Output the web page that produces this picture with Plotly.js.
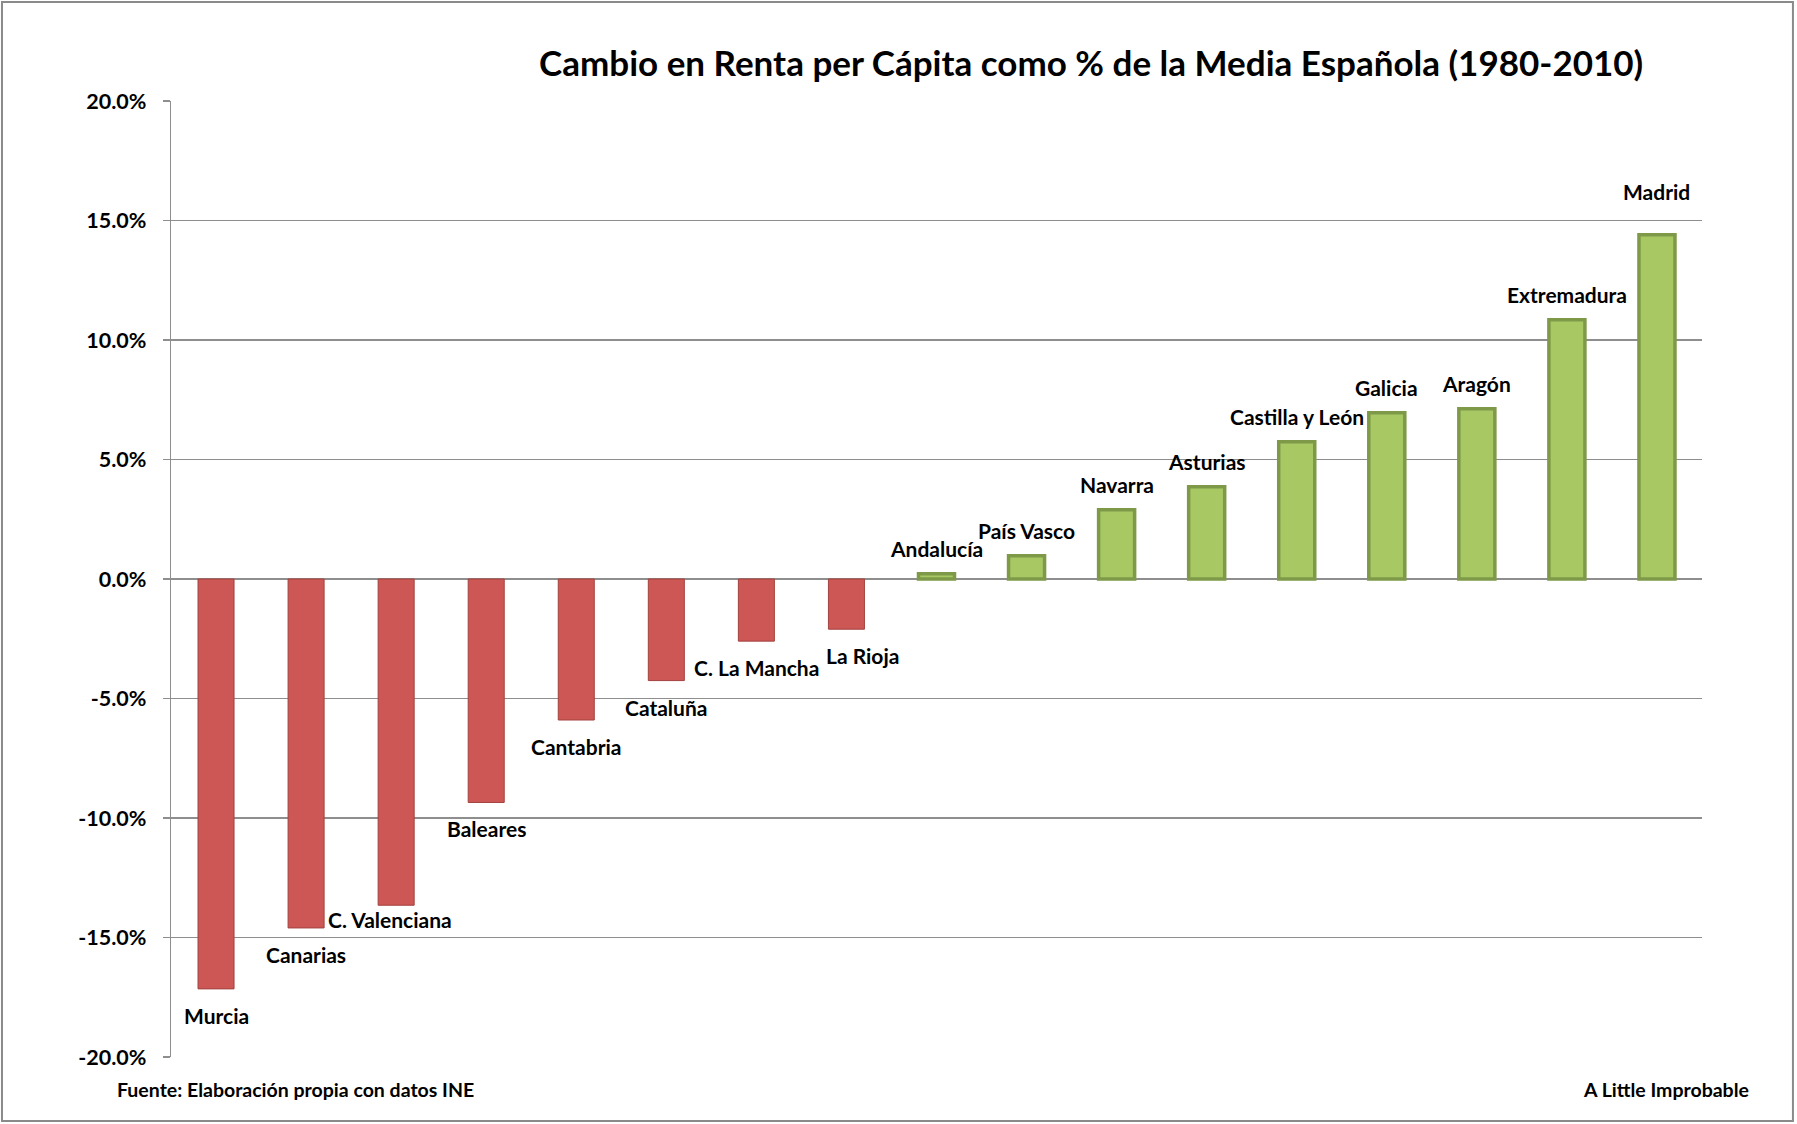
<!DOCTYPE html>
<html>
<head>
<meta charset="utf-8">
<script src="https://cdn.plot.ly/plotly-3.0.1.min.js"></script>
<style>
  html, body { margin: 0; padding: 0; background: #ffffff; }
  #chart { width: 1797px; height: 1124px; }
</style>
</head>
<body>
<div id="chart"></div>
<script>
// ---- Data ----
const regions = ["Murcia", "Canarias", "C. Valenciana", "Baleares", "Cantabria", "Cataluña",
  "C. La Mancha", "La Rioja", "Andalucía", "País Vasco", "Navarra", "Asturias",
  "Castilla y León", "Galicia", "Aragón", "Extremadura", "Madrid"];
const changePct = [-17.15, -14.6, -13.65, -9.35, -5.9, -4.25,
  -2.6, -2.1, 0.22, 0.97, 2.9, 3.86,
  5.74, 6.96, 7.12, 10.85, 14.4];
const tickValues = [-20, -15, -10, -5, 0, 5, 10, 15, 20];
const tickLabels = ["-20.0%", "-15.0%", "-10.0%", "-5.0%", "0.0%", "5.0%", "10.0%", "15.0%", "20.0%"];
const titleText = "Cambio en Renta per Cápita como % de la Media Española (1980-2010)";
const sourceText = "Fuente: Elaboración propia con datos INE";
const brandText = "A Little Improbable";

// ---- Styling ----
const FONT = "Lato, 'Open Sans', sans-serif";
const RED_FILL = "#cd5755", RED_LINE = "#a3423f";
const GREEN_FILL = "#a8c864", GREEN_LINE = "#7e9a48";
const GRID = "#8e8e8e";
// label nudges (px) for labels that were moved by hand in the original
const nudge = { "C. Valenciana": [-6, 12], "La Rioja": [16, 0], "Madrid": [0, 18] };

const colors = changePct.map(v => v < 0 ? RED_FILL : GREEN_FILL);
const lineColors = changePct.map(v => v < 0 ? RED_LINE : GREEN_LINE);
const lineWidths = changePct.map(v => v < 0 ? 1 : 3.5);

const trace = {
  type: "bar",
  x: regions,
  y: changePct,
  marker: { color: colors, line: { color: lineColors, width: lineWidths } },
  hoverinfo: "x+y"
};

const annotations = regions.map((r, i) => {
  const v = changePct[i];
  const n = nudge[r] || [0, 0];
  return {
    x: r, y: v, xref: "x", yref: "y", text: r, showarrow: false,
    xanchor: "center", yanchor: v < 0 ? "top" : "bottom",
    xshift: n[0], yshift: (v < 0 ? -12 : 11) + n[1],
    font: { family: FONT, size: 21, color: "#000000", weight: 700 }
  };
});

annotations.push({
  xref: "paper", yref: "paper", x: -0.0366, y: -0.0335, xanchor: "left", yanchor: "middle",
  text: sourceText, showarrow: false,
  font: { family: FONT, size: 19.5, color: "#000000", weight: 700 }
});
annotations.push({
  xref: "paper", yref: "paper", x: 1.032, y: -0.0345, xanchor: "right", yanchor: "middle",
  text: brandText, showarrow: false,
  font: { family: FONT, size: 19.5, color: "#000000", weight: 700 }
});

const layout = {
  width: 1797, height: 1124,
  margin: { l: 171, r: 95, t: 101, b: 67, pad: 0 },
  paper_bgcolor: "#ffffff", plot_bgcolor: "#ffffff",
  showlegend: false,
  bargap: 0.6,
  title: {
    text: titleText,
    font: { family: FONT, size: 35, color: "#000000", weight: 700 },
    xref: "paper", x: 0.601, xanchor: "center",
    yref: "container", y: 0.943, yanchor: "middle"
  },
  xaxis: {
    type: "category", range: [-0.5, 16.5], showticklabels: false, ticks: "",
    showgrid: false, zeroline: false, showline: false, fixedrange: true
  },
  yaxis: {
    range: [-20, 20], tickmode: "array", tickvals: tickValues, ticktext: tickLabels,
    showgrid: true, gridcolor: GRID, gridwidth: 1.3,
    zeroline: true, zerolinecolor: GRID, zerolinewidth: 1.3,
    showline: true, linecolor: GRID, linewidth: 1.3,
    ticks: "outside", ticklen: 7, tickcolor: GRID, tickwidth: 1.3,
    ticklabelstandoff: 12,
    tickfont: { family: FONT, size: 21.5, color: "#000000", weight: 700 },
    fixedrange: true
  },
  annotations: annotations,
  shapes: [{
    type: "rect", xref: "paper", yref: "paper",
    x0: -0.1104, x1: 1.0594, y0: -0.0669, y1: 1.1035,
    line: { color: "#8a8a8a", width: 2 }, fillcolor: "rgba(0,0,0,0)", layer: "below"
  }]
};

Plotly.newPlot("chart", [trace], layout, { displayModeBar: false, staticPlot: true });
</script>
</body>
</html>
